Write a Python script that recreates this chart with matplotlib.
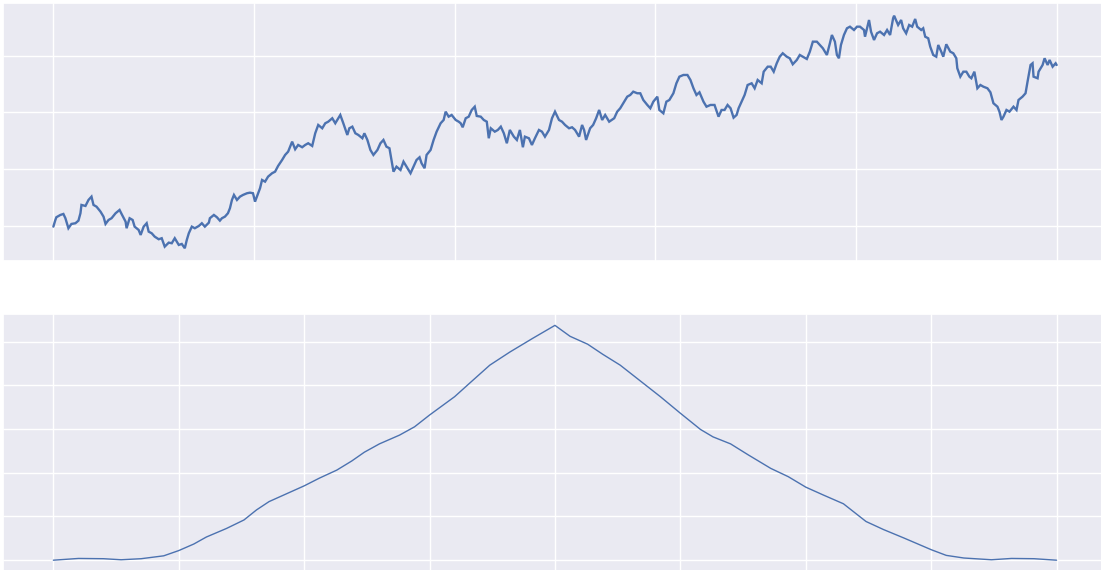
import matplotlib
matplotlib.use("Agg")
import matplotlib.pyplot as plt
import seaborn as sns

# Random-walk path: step index and position
walk_steps = [
    0, 2, 3, 7, 10, 12, 15, 18, 22, 25, 27, 28, 32, 35, 38, 40, 43, 47, 50, 52,
    55, 58, 62, 66, 68, 72, 73, 76, 79, 81, 85, 87, 90, 93, 95, 98, 101, 105, 108, 111,
    115, 118, 121, 125, 128, 131, 133, 135, 138, 141, 145, 148, 151, 155, 156, 160, 163, 166, 168, 171,
    174, 176, 178, 180, 183, 186, 189, 193, 196, 199, 201,
    206, 208, 211, 214, 218, 221, 224, 228, 231, 234, 238, 241, 244, 248, 251, 254, 258, 261, 264, 268,
    271, 274, 278, 281, 286, 289, 293, 295, 298, 301, 304, 308, 310, 313, 316, 319, 323, 326, 329, 332,
    335, 337, 339, 342, 346, 349, 352, 356, 359, 362, 365, 367, 370, 372, 376, 379, 382, 386, 389, 391,
    394, 397, 401, 404,
    406, 408, 411, 414, 417, 420, 422, 426, 429, 432, 434, 436, 440, 443, 446, 449, 452, 455, 459, 462,
    465, 468, 470, 474, 477, 480, 484, 487, 490, 494, 497, 500, 504, 507, 510, 514, 517, 520, 524, 527,
    529, 531, 535, 538, 541, 544, 547, 550, 554, 559, 562, 565, 568, 572, 575, 578, 582, 585, 588, 592,
    595, 598, 602, 604,
    608, 611, 614, 618, 621, 624, 628, 632, 635, 638, 641, 644, 648, 651, 655, 659, 663, 666, 669, 672,
    675, 678, 681, 683, 686, 689, 692, 696, 699, 702, 706, 708, 712, 715, 718, 721, 724, 727, 731, 734,
    737, 741, 744, 747, 751, 754, 757, 761, 764, 767, 771, 774, 776, 779, 781, 783, 785, 788, 791, 794,
    798, 801, 804, 808, 809, 813, 815, 818, 821, 824, 828, 831, 834, 837, 838, 842, 845, 847, 850, 853,
    856, 859, 861, 865, 867, 869, 872, 874, 877, 880, 882, 885, 887, 890, 894, 897, 900, 901, 904, 907,
    910, 913, 915, 918, 921, 924, 927, 931, 934, 937, 941, 943, 945, 947, 950, 953, 957, 960, 962, 966,
    969, 971, 974, 976, 977, 981, 982, 986, 988, 991, 993, 996, 999, 1000,
]
walk_values = [
    -0.35, 2.01, 2.97, 3.78, 4.13, 2.62, -0.92, 0.60, 0.85, 1.77, 4.38, 7.32, 6.96, 9.08, 10.25, 7.32, 6.71, 4.95, 3.18, 0.60,
    2.01, 2.62, 4.38, 5.55, 4.13, 1.41, -0.92, 2.62, 2.01, -0.35, -1.52, -3.29, -0.35, 0.85, -2.12, -2.69, -3.89, -4.81, -4.45, -7.42,
    -6.01, -6.22, -4.45, -6.82, -6.47, -7.99, -5.05, -2.69, -0.35, -0.92, -0.11, 0.85, -0.35, 1.06, 2.62, 3.78, 2.97, 1.77, 2.62, 3.18,
    4.38, 6.15, 9.08, 10.85, 9.08, 10.25, 10.85, 11.45, 11.66, 11.45, 8.48,
    13.22, 16.15, 15.55, 17.32, 18.52, 19.08, 21.10, 23.22, 24.99, 26.15, 29.69, 27.00, 28.52, 27.71, 28.52, 29.12, 28.17, 32.65, 35.59, 34.42,
    36.19, 36.75, 37.96, 36.19, 39.12, 36.19, 32.05, 34.42, 34.99, 32.65, 32.05, 30.89, 32.65, 30.29, 26.75, 24.99, 26.75, 29.12, 30.29, 27.92,
    27.35, 23.22, 19.08, 20.85, 19.68, 22.62, 20.85, 18.52, 20.85, 23.22, 24.17, 22.05, 20.29, 24.99, 26.75, 30.29, 33.22, 36.19, 37.35, 40.29,
    38.52, 39.12, 37.35, 36.75,
    36.19, 34.77, 37.96, 38.52, 40.89, 42.05, 38.77, 38.52, 37.35, 36.75, 30.89, 34.42, 33.22, 33.82, 34.99, 32.65, 29.12, 33.82, 31.45, 30.29,
    33.82, 27.71, 31.45, 30.89, 28.52, 30.89, 33.82, 33.22, 31.45, 33.82, 37.96, 40.29, 37.35, 36.75, 35.59, 34.42, 34.77, 33.82, 31.45, 35.59,
    33.82, 30.29, 34.42, 35.59, 37.96, 40.89, 37.35, 39.12, 36.75, 37.96, 40.29, 41.49, 43.26, 45.59, 46.19, 47.36, 46.79, 46.79, 44.42, 42.66,
    41.49, 43.82, 45.59, 40.89,
    39.72, 43.82, 44.42, 46.79, 50.32, 52.66, 53.26, 53.26, 51.49, 48.56, 46.19, 47.14, 43.82, 42.05, 42.66, 42.66, 38.52, 40.89, 40.89, 42.66,
    41.49, 38.17, 39.12, 41.49, 43.82, 46.19, 49.72, 50.32, 48.56, 51.49, 50.32, 54.42, 56.19, 56.19, 54.42, 57.39, 59.72, 60.93, 59.72, 59.16,
    57.04, 58.56, 60.33, 59.72, 58.91, 61.49, 65.03, 65.03, 63.86, 62.69, 60.33, 64.46, 67.39, 65.03, 60.33, 59.16, 63.86, 67.39, 69.76, 70.33,
    69.16, 70.33, 70.33, 69.16, 66.79, 72.69, 68.56, 65.63, 67.99, 68.56, 67.39, 69.16, 67.39, 73.30, 74.21, 70.93, 72.69, 69.76, 67.99, 70.93,
    70.33, 73.05, 70.33, 69.16, 69.76, 66.79, 66.23, 63.26, 60.33, 59.72, 63.86, 61.49, 59.72, 64.11, 61.49, 60.93, 59.16, 55.63, 52.66, 54.42,
    54.42, 52.66, 52.09, 54.42, 48.56, 49.72, 49.12, 48.56, 47.14, 43.26, 42.05, 40.29, 37.35, 38.52, 40.89, 40.29, 42.05, 40.89, 44.42, 45.59,
    46.79, 50.89, 56.79, 57.39, 52.66, 52.09, 54.42, 56.79, 59.16, 56.79, 58.56, 56.19, 57.39, 56.79,
]

# Autocorrelation of the walk over the full lag range
acf_lags = [
    0, 500, 1000, 1350, 1750, 2200, 2500, 2800, 3050, 3450,
    3800, 4050, 4300, 4650, 5000, 5300, 5650, 5950, 6200, 6500,
    6900, 7200, 7500, 8000, 8300, 8700, 9100, 9550, 9999, 10300,
    10650, 10950, 11300, 11700, 12100, 12500, 12900, 13150, 13500, 13850,
    14300, 14650, 15000, 15350, 15750, 16200, 16550, 16950, 17500, 17800,
    18150, 18700, 19100, 19550, 19998,
]
acf_values = [
    0.0, 0.04, 0.034, 0.01, 0.034, 0.10, 0.22, 0.37, 0.53, 0.725,
    0.92, 1.15, 1.34, 1.52, 1.70, 1.875, 2.06, 2.27, 2.47, 2.66,
    2.86, 3.05, 3.32, 3.74, 4.05, 4.46, 4.76, 5.07, 5.37, 5.12,
    4.94, 4.71, 4.46, 4.10, 3.74, 3.36, 2.99, 2.82, 2.66, 2.41,
    2.10, 1.91, 1.67, 1.49, 1.29, 0.885, 0.70, 0.51, 0.24, 0.11,
    0.05, 0.01, 0.04, 0.034, 0.0,
]

sns.set_theme(style="darkgrid")
line_color = "#4C72B0"

W, H = 1101, 570
fig = plt.figure(figsize=(W / 100, H / 100), dpi=100)
ax_walk = fig.add_axes([3.2 / W, 1 - 261 / H, 1103.6 / W, 258 / H])
ax_acf = fig.add_axes([3.2 / W, -2 / H, 1103.6 / W, 258 / H])

ax_walk.plot(walk_steps, walk_values, color=line_color, linewidth=1.7,
             solid_joinstyle="miter")
ax_walk.set_xlim(-50, 1050)
ax_walk.set_ylim(-12.5, 78.7)
ax_walk.set_xticks([0, 200, 400, 600, 800, 1000])
ax_walk.set_yticks([0, 20, 40, 60])

ax_acf.plot(acf_lags, acf_values, color=line_color, linewidth=1.0)
ax_acf.set_xlim(-1000, 21000)
ax_acf.set_ylim(-0.27, 5.63)
ax_acf.set_xticks([0, 2500, 5000, 7500, 10000, 12500, 15000, 17500, 20000])
ax_acf.set_yticks([0, 1, 2, 3, 4, 5])

for ax in (ax_walk, ax_acf):
    ax.tick_params(labelleft=False, labelbottom=False, length=0)
    ax.grid(True, color="white", linewidth=1.0)

fig.savefig("out.png", dpi=100)
